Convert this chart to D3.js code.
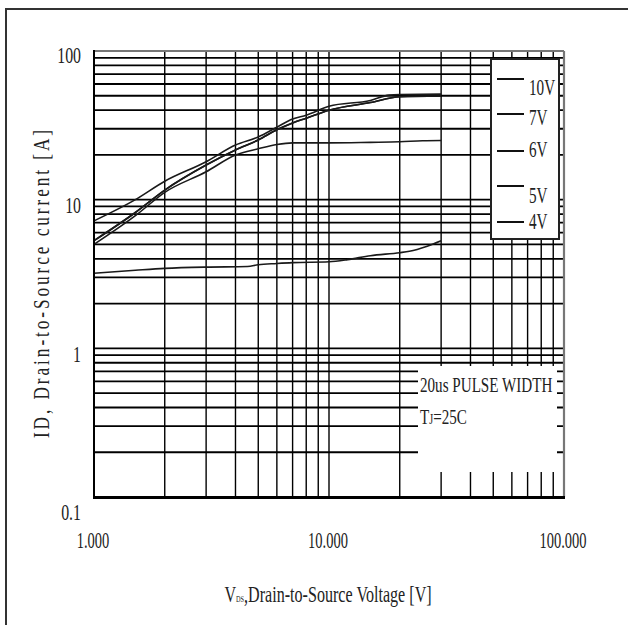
<!DOCTYPE html>
<html lang="en">
<head>
    <meta charset="UTF-8">
    <title>Output characteristics</title>
    <style>
        body { margin: 0; background: #fff; }
        text { font-family: "Liberation Serif", "Times New Roman", serif; fill: #222; }
        .grid-h { stroke: #000; stroke-width: 1.8; }
        .grid-v { stroke: #000; stroke-width: 1.4; }
        .curve { fill: none; stroke: #1a1a1a; stroke-width: 1.6; stroke-linejoin: round; }
    </style>
</head>
<body>
    <svg></svg>
</body>
<script src="https://d3js.org/d3.v7.min.js"></script>
<script>
    // values: [Vds (V), Id (A)]
    var s10V = [[1,7.2],[1.5,10.0],[2,13.3],[3,18.0],[4,23.3],[5,26.4],[6,30.7],[7,34.9],[8,37.0],[10,42.5],[15,46.5],[18,50.5],[20,51.0],[30,51.3]];
    var s7V  = [[1,5.3],[1.5,8.2],[2,11.6],[3,17.1],[4,21.6],[5,25.2],[6,29.5],[7,32.8],[8,35.3],[10,40.0],[15,45.0],[20,49.2],[30,49.8]];
    var s6V  = [[1,5.3],[1.5,8.2],[2,11.6],[3,17.1],[4,21.6],[5,25.2],[6,29.5],[7,32.8],[8,35.3],[10,40.0],[15,45.0],[20,49.2],[30,49.8]];
    var s5V  = [[1,5.0],[1.5,7.8],[2,11.2],[3,15.4],[4,20.0],[5,22.0],[6,23.5],[7,24.1],[10,24.1],[15,24.3],[20,24.5],[25,24.9],[30,25.0]];
    var s4V  = [[1,3.2],[1.5,3.35],[2,3.45],[3,3.52],[4.5,3.55],[5,3.65],[6,3.72],[7,3.77],[10,3.82],[12,3.95],[15,4.2],[20,4.4],[22,4.5],[26,4.85],[30,5.3]];

    var legendLabels = ["10V", "7V", "6V", "5V", "4V"];
    var xTicks = [1, 10, 100];
    var xTickLabels = ["1.000", "10.000", "100.000"];
    var yTicks = [100, 10, 1, 0.1];
    var yTickLabels = ["100", "10", "1", "0.1"];

    var width = 628, height = 625;
    var svg = d3.select("svg").attr("width", width).attr("height", height);

    var x = d3.scaleLog().domain([1, 100]).range([94, 564]);
    var y = d3.scaleLog().domain([0.1, 100]).range([497, 51]);

    // outer frame (right/bottom edges fall outside the picture)
    svg.append("rect").attr("x", 6).attr("y", 9).attr("width", 700).attr("height", 700)
        .attr("fill", "none").attr("stroke", "#333").attr("stroke-width", 2);

    var g = svg.append("g");

    // log grid
    g.selectAll(".grid-v").data(x.ticks().filter(d => d > 1 && d < 100)).enter()
        .append("line").attr("class", "grid-v")
        .attr("x1", d => x(d)).attr("x2", d => x(d))
        .attr("y1", y(100)).attr("y2", y(0.1));
    g.selectAll(".grid-h").data(y.ticks().filter(d => d > 0.1 && d < 100)).enter()
        .append("line").attr("class", "grid-h")
        .attr("x1", x(1)).attr("x2", x(100))
        .attr("y1", d => y(d)).attr("y2", d => y(d));

    // white box behind the test-condition note
    g.append("rect").attr("x", 418).attr("y", 366).attr("width", 139).attr("height", 106).attr("fill", "#fff");

    // curves
    var line = d3.line().x(d => x(d[0])).y(d => y(d[1])).curve(d3.curveMonotoneX);
    [s10V, s7V, s6V, s5V, s4V].forEach(function (s, i) {
        g.append("path").datum(s).attr("class", "curve")
            .attr("stroke", i >= 3 ? "#333" : "#111")
            .attr("d", line);
    });

    // plot borders
    g.append("line").attr("x1", x(1)).attr("x2", x(100)).attr("y1", y(100)).attr("y2", y(100))
        .attr("stroke", "#777").attr("stroke-width", 2.2);
    g.append("line").attr("x1", x(100)).attr("x2", x(100)).attr("y1", y(100)).attr("y2", y(0.1))
        .attr("stroke", "#777").attr("stroke-width", 2.2);
    g.append("line").attr("x1", x(1)).attr("x2", x(1)).attr("y1", y(100) - 1).attr("y2", y(0.1) + 2)
        .attr("stroke", "#000").attr("stroke-width", 2);
    g.append("line").attr("x1", x(1)).attr("x2", x(100) + 1).attr("y1", y(0.1) + 0.5).attr("y2", y(0.1) + 0.5)
        .attr("stroke", "#000").attr("stroke-width", 3);

    // condensed serif text helper
    function label(px, py, txt, size, anchor, sx) {
        return svg.append("text")
            .attr("transform", "translate(" + px + "," + py + ") scale(" + sx + ",1)")
            .attr("font-size", size)
            .attr("text-anchor", anchor)
            .text(txt);
    }

    // legend
    var leg = svg.append("g");
    leg.append("rect").attr("x", 491).attr("y", 59).attr("width", 68).attr("height", 180)
        .attr("fill", "#fff").attr("stroke", "#222").attr("stroke-width", 2);
    var legLineY = [79, 114, 151, 186, 222];
    var legTextY = [95, 125, 157, 203, 229];
    legendLabels.forEach(function (t, i) {
        leg.append("line").attr("x1", 497).attr("x2", 524).attr("y1", legLineY[i]).attr("y2", legLineY[i])
            .attr("stroke", "#111").attr("stroke-width", 2);
        label(529, legTextY[i], t, 23, "start", 0.66);
    });

    // note
    label(420, 392, "20us PULSE WIDTH", 21, "start", 0.72);
    var tj = svg.append("text")
        .attr("transform", "translate(420,424) scale(0.72,1)")
        .attr("font-size", 21);
    tj.append("tspan").text("T");
    tj.append("tspan").attr("font-size", 14).text("J");
    tj.append("tspan").text("=25C");

    // tick labels
    var yLabelY = [63, 213, 362, 520];
    yTicks.forEach(function (d, i) {
        label(81, yLabelY[i], yTickLabels[i], 24, "end", 0.66);
    });
    xTicks.forEach(function (d, i) {
        label(x(d) - 1, 548, xTickLabels[i], 23, "middle", 0.63);
    });

    // axis titles
    var xt = svg.append("text")
        .attr("transform", "translate(328,602) scale(0.7,1)")
        .attr("font-size", 23).attr("text-anchor", "middle");
    xt.append("tspan").text("V");
    xt.append("tspan").attr("font-size", 9).text("DS");
    xt.append("tspan").text(",Drain-to-Source Voltage [V]");

    svg.append("text")
        .attr("transform", "translate(49,284) rotate(-90) scale(0.72,1)")
        .attr("font-size", 24).attr("text-anchor", "middle")
        .attr("textLength", 428).attr("lengthAdjust", "spacing")
        .text("ID, Drain-to-Source current [A]");
</script>
</html>
